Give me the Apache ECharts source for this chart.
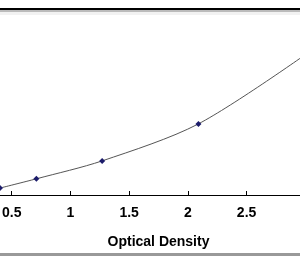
<!DOCTYPE html>
<html>
<head>
<meta charset="utf-8">
<script src="https://cdn.jsdelivr.net/npm/echarts@6/dist/echarts.min.js"></script>
<style>
  html, body { margin: 0; padding: 0; background: #fff; }
  #main { width: 300px; height: 256px; }
</style>
</head>
<body>
<div id="main"></div>
<script>
// standard curve points: optical density vs concentration
const odValues = [0.40, 0.71, 1.27, 2.09, 3.03];
const concValues = [1.2, 2.8, 5.9, 12.3, 24.7];
const xTicks = [0, 0.5, 1, 1.5, 2, 2.5, 3, 3.5];

var chart = echarts.init(document.getElementById("main"));

var points = odValues.map(function (od, i) { return [od, concValues[i]]; });

var option = {
  backgroundColor: "#fff",
  animation: false,
  textStyle: { fontFamily: "Liberation Sans, Arial, sans-serif" },
  grid: {
    left: -47, top: 10, width: 411, height: 185,
    containLabel: false,
    outerBoundsMode: "none"
  },
  xAxis: {
    type: "value",
    min: xTicks[0],
    max: xTicks[xTicks.length - 1],
    interval: 0.5,
    name: "Optical Density",
    nameLocation: "middle",
    nameGap: 40,
    nameTextStyle: { color: "#000", fontWeight: "bold", fontSize: 14 },
    axisLine: { lineStyle: { color: "#000", width: 1 } },
    axisTick: { inside: true, length: 4, lineStyle: { color: "#000" } },
    axisLabel: { color: "#000", fontWeight: "bold", fontSize: 14, margin: 11 },
    splitLine: { show: false }
  },
  yAxis: {
    type: "value",
    min: 0,
    max: 32,
    show: false
  },
  graphic: [
    { type: "rect", shape: { x: 0, y: 8, width: 300, height: 2 }, style: { fill: "#000" } },
    { type: "rect", shape: { x: 0, y: 10, width: 300, height: 2 }, style: { fill: "#bbb" } },
    { type: "rect", shape: { x: 0, y: 12, width: 300, height: 3 }, style: { fill: "#f2f2f2" } },
    { type: "rect", shape: { x: 0, y: 253, width: 300, height: 3 }, style: { fill: "#999" } }
  ],
  series: [
    {
      type: "line",
      data: points,
      smooth: 0.3,
      symbol: "diamond",
      symbolSize: 6,
      itemStyle: { color: "#1c1c6b" },
      lineStyle: { color: "#555", width: 1 }
    }
  ]
};

chart.setOption(option);
</script>
</body>
</html>
